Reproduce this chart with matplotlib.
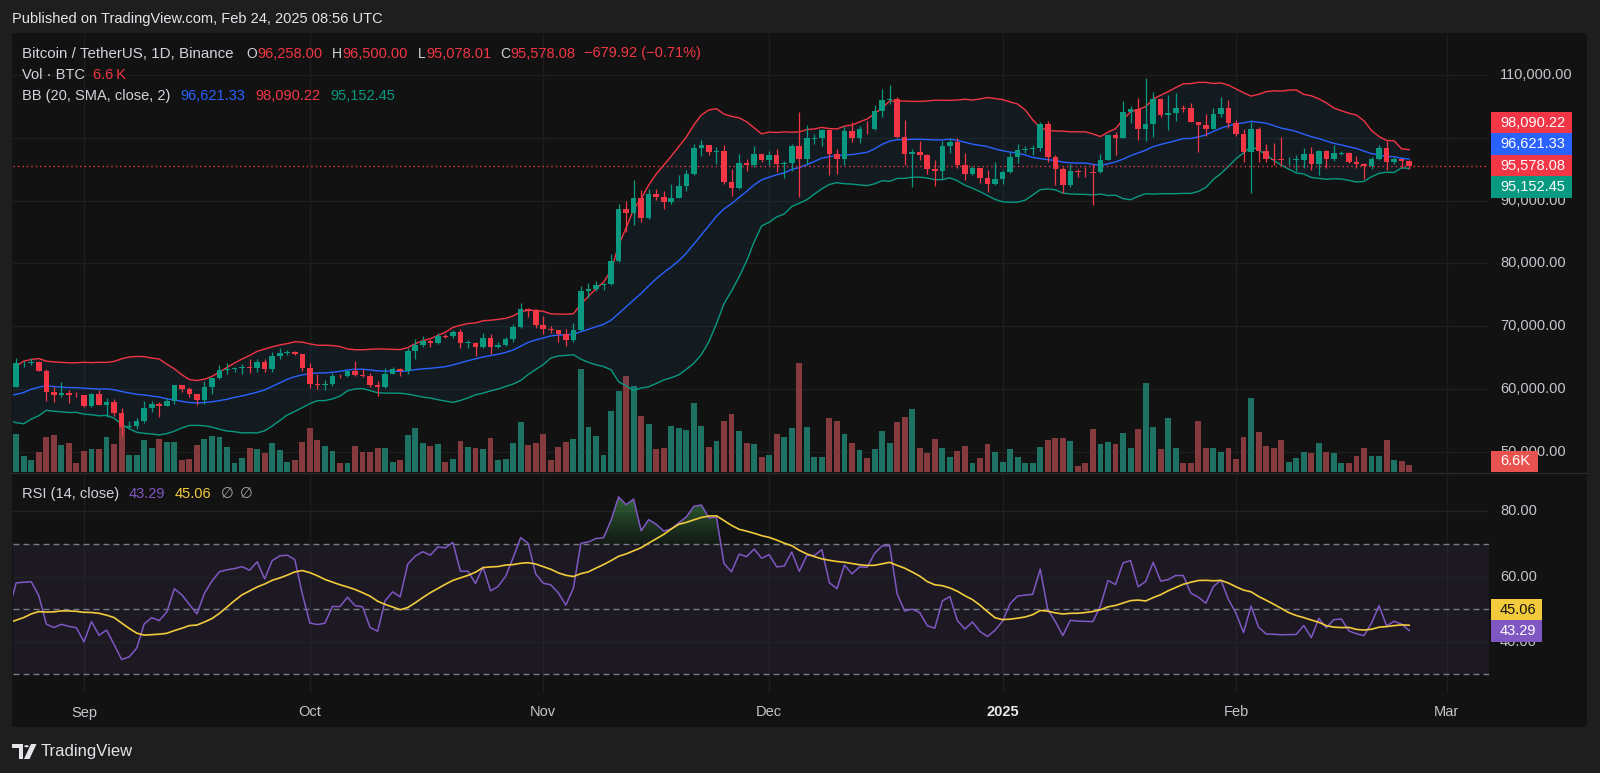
import numpy as np
import pandas as pd
import matplotlib
matplotlib.use("Agg")
import matplotlib.pyplot as plt
from matplotlib.patches import Rectangle, Circle, Polygon
from matplotlib.path import Path
from matplotlib.lines import Line2D
from matplotlib.colors import LinearSegmentedColormap
from matplotlib.transforms import blended_transform_factory

plt.rcParams['font.family'] = ['Liberation Sans', 'DejaVu Sans']

# ---------------- data (BTC/USDT 1D, Binance) ----------------
# closes before the first visible candle (Jul 1 - Aug 22, 2024), used for BB / RSI warm-up
warmup_closes = [62900, 62100, 60200, 57050, 56660, 58240, 55860, 56710, 58050, 57730,
                 57340, 57900, 59220, 60800, 64720, 65040, 64090, 63970, 66700, 67150,
                 68170, 67560, 65930, 65370, 65780, 67900, 67890, 68250, 66780, 66190,
                 64630,
                 65350, 61500, 60700, 58160, 54020, 56040, 55130, 61710, 60880, 60950,
                 58710, 59350, 60600, 58740, 57560, 58880, 59480, 58480, 59490, 59010,
                 61160, 60380]

first_open = 60380.0  # open of Aug 23, 2024 (each later open = previous close)

highs = [64950, 64520, 65000, 64480, 63210, 60240, 61170, 59840, 59450, 59060,
         59400, 59810, 58520, 58330, 56990, 54850, 55300, 58100, 58040, 57990,
         58590, 60670, 60660, 60380, 59210, 61330, 61790, 63870, 64130, 63560,
         64000, 64750, 64800, 64820, 65850, 66500, 66260, 66080, 65620, 64130,
         62390, 61470, 62480, 62370, 62970, 64480, 63180, 62540, 61320, 63420,
         63480, 63290, 66500, 67950, 68420, 67940, 68970, 68690, 69400, 69500,
         67830, 67470, 68850, 68770, 67450, 68330, 70270, 73620, 72960, 72700,
         71630, 70000, 69400, 69490, 70580, 76400, 76850, 77200, 76930, 81500,
         89530, 89940, 93265, 91760, 91850, 91780, 91450, 92600, 94000, 94830,
         98950, 99590, 98900, 98560, 98870, 94970, 97360, 96650, 98690, 97500,
         97900, 98150, 96300, 99000, 104090, 102040, 100550, 101400, 101200, 98270,
         101900, 102540, 101900, 102650, 105250, 107790, 108350, 106520, 102800, 98150,
         99540, 97400, 96420, 99500, 99960, 99960, 97540, 95500, 95170, 94900,
         96150, 94900, 97800, 98980, 98740, 98800, 102500, 102720, 97260, 95350,
         95840, 95000, 95400, 95900, 97370, 100680, 100870, 105900, 104990, 106320,
         109590, 107240, 106400, 106850, 107120, 105290, 105480, 102590, 103800, 104780,
         106460, 106090, 102800, 101460, 102500, 101740, 99000, 99200, 100150, 96880,
         97320, 98350, 98500, 98120, 98080, 98830, 97970, 97730, 97040, 96000,
         96900, 98800, 99500, 96940, 96670, 96500.00]

lows = [60350, 63560, 63780, 62800, 58030, 57860, 58780, 57750, 58760, 57200,
        57120, 57420, 55600, 55640, 52550, 53740, 53650, 54590, 56400, 55550,
        57320, 57630, 59460, 58700, 57490, 57610, 59170, 61570, 62350, 62760,
        62380, 62560, 62700, 62670, 62670, 64820, 65420, 65430, 62860, 60160,
        59990, 59830, 60460, 61690, 61850, 62130, 61850, 60310, 58900, 60080,
        62420, 62050, 62440, 64800, 66750, 66700, 67130, 68050, 68100, 66570,
        66570, 65260, 66470, 65510, 66520, 66800, 67520, 69730, 71440, 69690,
        68820, 68860, 67480, 66840, 67460, 69300, 74450, 75560, 75700, 76490,
        80220, 85070, 86130, 86670, 87100, 90050, 88720, 89380, 90370, 91530,
        94110, 97120, 97210, 95860, 92600, 90790, 91820, 94680, 95410, 96150,
        95700, 94500, 93580, 94660, 90500, 95700, 99020, 98700, 94150, 94260,
        95700, 99310, 99200, 100610, 101220, 103330, 105320, 100000, 95670, 92100,
        96400, 94200, 92400, 93400, 97600, 95140, 93300, 94000, 92880, 91320,
        92470, 92700, 94400, 96000, 97530, 97250, 97900, 96100, 92500, 91200,
        92200, 93800, 93700, 89260, 94320, 96500, 97300, 99950, 102280, 99650,
        99550, 100100, 103330, 101250, 102750, 104130, 102500, 97780, 100270, 101330,
        103310, 101540, 100300, 96150, 91230, 96150, 96150, 95650, 95650, 95690,
        94750, 95260, 94850, 94090, 95220, 96250, 97230, 96050, 95210, 93390,
        95030, 96470, 94870, 95770, 95230, 95078.01]

closes = [64090, 64180, 64250, 62880, 59500, 59030, 59370, 59120, 58970, 57300,
          59130, 57490, 57970, 56160, 53950, 54160, 54870, 57040, 57650, 57340,
          58130, 60570, 60010, 59130, 58210, 60310, 61760, 62950, 63200, 63350,
          63580, 63340, 64260, 63150, 65180, 65770, 65860, 65600, 63330, 60800,
          60650, 60750, 62080, 62070, 62820, 62220, 62130, 60580, 60270, 62450,
          63190, 62850, 66050, 67040, 67610, 67400, 68400, 68360, 69000, 67370,
          67380, 66650, 68160, 66620, 67010, 67930, 69900, 72720, 72340, 70220,
          69500, 69370, 68770, 67810, 69360, 75640, 75900, 76540, 76680, 80370,
          88650, 87950, 90380, 87250, 91060, 90560, 89850, 90460, 92310, 94290,
          98350, 98890, 97670, 97900, 93010, 91970, 95950, 95640, 97460, 96410,
          97190, 95840, 95990, 98770, 96650, 99920, 99920, 101170, 97370, 96600,
          101130, 100000, 101420, 101370, 104300, 106060, 106140, 100200, 97460, 97760,
          97220, 95100, 94690, 98680, 99400, 95650, 94160, 95160, 93530, 92640,
          93430, 94590, 96980, 98120, 98240, 98360, 102240, 96950, 95040, 92480,
          94700, 94570, 94520, 94500, 96530, 100500, 99990, 104080, 104560, 101330,
          102260, 106140, 103650, 103940, 104720, 104710, 102580, 102080, 101330, 103730,
          104730, 102430, 100640, 97690, 101400, 97870, 96610, 96550, 96460, 96480,
          96500, 97440, 95780, 97870, 96620, 97510, 97570, 96120, 95770, 95540,
          96640, 98330, 96130, 96580, 96258, 95578.08]

volumes_k = [36.1, 15.2, 11.4, 19.0, 33.3, 35.2, 25.7, 27.6, 8.6, 20.0,
             21.9, 21.9, 33.3, 26.6, 42.8, 16.2, 16.2, 30.4, 22.8, 31.4,
             28.5, 28.5, 11.4, 12.4, 25.7, 31.4, 34.2, 33.3, 23.8, 8.6,
             13.3, 22.8, 21.9, 18.1, 27.6, 20.9, 9.5, 11.4, 28.5, 41.8,
             30.4, 24.7, 20.0, 8.6, 8.6, 24.7, 19.0, 19.0, 22.8, 22.8,
             9.5, 11.4, 35.2, 41.8, 27.6, 24.7, 26.6, 9.5, 12.4, 29.5,
             23.8, 22.8, 21.9, 32.3, 11.4, 12.4, 27.6, 47.5, 25.7, 27.6,
             36.1, 11.4, 23.8, 28.5, 31.4, 97.9, 42.8, 34.2, 16.2, 58.0,
             77.0, 91.2, 81.7, 53.2, 45.6, 21.9, 22.8, 43.7, 41.8, 39.9,
             65.6, 43.7, 23.8, 29.5, 48.5, 55.1, 39.0, 27.6, 26.6, 14.3,
             16.2, 36.1, 33.3, 41.8, 103.6, 42.8, 14.3, 14.3, 51.3, 48.5,
             36.1, 27.6, 20.9, 13.3, 21.9, 39.0, 27.6, 47.5, 52.3, 59.9,
             22.8, 18.1, 31.4, 22.8, 14.3, 20.0, 24.7, 8.6, 13.3, 26.6,
             19.0, 9.5, 21.9, 14.3, 8.6, 8.6, 23.8, 30.4, 32.3, 32.3,
             29.5, 5.7, 8.6, 40.9, 26.6, 28.5, 26.6, 37.1, 22.8, 40.9,
             84.6, 42.8, 21.9, 51.3, 22.8, 8.6, 8.6, 48.5, 22.8, 22.8,
             19.0, 22.8, 12.4, 33.3, 70.3, 38.0, 24.7, 22.8, 30.4, 9.5,
             13.3, 19.0, 18.1, 27.6, 19.0, 18.1, 8.6, 8.6, 15.2, 22.8,
             15.2, 15.2, 30.4, 11.4, 10.5, 6.6]

month_ticks = [9, 39, 70, 100, 131, 162, 190]   # day index of Sep 1 ... Mar 1
month_labels = ["Sep", "Oct", "Nov", "Dec", "2025", "Feb", "Mar"]
price_ticks = [50000, 60000, 70000, 80000, 90000, 100000, 110000]
rsi_ticks = [40, 60, 80]
rsi_levels = [70, 50, 30]

# legend / last values as displayed
ohlc_text = [("O", "96,258.00"), ("H", "96,500.00"), ("L", "95,078.01"), ("C", "95,578.08")]
change_text = "\u2212679.92 (\u22120.71%)"
vol_text = "6.6\u2009K"
vol_tag_text = "6.6K"
last_close = 95578.08
last_vol_k = 6.6
bb_basis_last, bb_upper_last, bb_lower_last = 96621.33, 98090.22, 95152.45
rsi_last, rsi_ma_last = 43.29, 45.06

# ---------------- style / layout ----------------
W, H, DPI = 1600, 773, 100
BG_OUT = '#1e1e1e'
BG = '#121212'
GRID = '#1e1e1e'
GREEN = '#089981'
RED = '#f23645'
BLUE = '#2962ff'
PURPLE = '#7e57c2'
YELLOW = '#f2cb3c'
TXT = '#d1d4dc'
AX_TXT = '#c3c6cc'
FS = 10.5

PX_L, PX_R = 12.5, 1489.0
MAIN_T, MAIN_B = 34.0, 472.0
RSI_T, RSI_B = 474.0, 693.0
XLIM = (-0.49, 195.6)
MAIN_YLIM = (46780, 116530)
RSI_YLIM = (24.3, 91.5)


def frac(x0, top, x1, bottom):
    return [x0 / W, 1 - bottom / H, (x1 - x0) / W, (bottom - top) / H]


fig = plt.figure(figsize=(W / DPI, H / DPI), dpi=DPI)
fig.patch.set_facecolor(BG_OUT)
renderer = fig.canvas.get_renderer()
fig.add_artist(Rectangle((12 / W, 1 - 727 / H), 1575 / W, 694 / H, transform=fig.transFigure,
                         facecolor=BG, edgecolor='none', zorder=-5))
fig.add_artist(Line2D([12 / W, 1587 / W], [1 - 473 / H, 1 - 473 / H], transform=fig.transFigure,
                      color='#2a2a2a', lw=1.0, zorder=-4))

axv = fig.add_axes(frac(PX_L, MAIN_T, PX_R, MAIN_B))
ax = fig.add_axes(frac(PX_L, MAIN_T, PX_R, MAIN_B))
axr = fig.add_axes(frac(PX_L, RSI_T, PX_R, RSI_B))
axv.set_zorder(1)
ax.set_zorder(2)
axr.set_zorder(2)
for a in (axv, ax, axr):
    a.patch.set_visible(False)
    for s in a.spines.values():
        s.set_visible(False)
    a.set_xlim(*XLIM)

ax.set_ylim(*MAIN_YLIM)

# ---------------- arrays ----------------
closes_a = np.array(closes, dtype=float)
highs_a = np.array(highs, dtype=float)
lows_a = np.array(lows, dtype=float)
opens_a = np.r_[first_open, closes_a[:-1]]
vol_a = np.array(volumes_k, dtype=float)
x = np.arange(len(closes_a))
up = closes_a >= opens_a

all_close = pd.Series(np.r_[np.array(warmup_closes, dtype=float), closes_a])
x_all = np.arange(-len(warmup_closes), len(closes_a))

# ---------------- grid (behind volume) ----------------
trv = blended_transform_factory(axv.transAxes, ax.transData)
for p in price_ticks:
    axv.add_line(Line2D([0, 1], [p, p], transform=trv, color=GRID, lw=1.0, zorder=0))
for m in month_ticks:
    axv.axvline(m, color=GRID, lw=1.0, zorder=0)
    axr.axvline(m, color=GRID, lw=1.0, zorder=0)

# ---------------- volume ----------------
vcol = np.where(up, '#1d7264', '#853a3e')
axv.bar(x, vol_a, width=0.78, color=vcol, edgecolor='none', zorder=2)
axv.set_ylim(0, vol_a.max() * 4.0)
axv.set_yticks([])
axv.set_xticks([])

# ---------------- Bollinger bands ----------------
bb_mid = all_close.rolling(20).mean()
bb_sd = all_close.rolling(20).std(ddof=0)
bb_up = bb_mid + 2 * bb_sd
bb_lo = bb_mid - 2 * bb_sd
mb = x_all >= -1
ax.fill_between(x_all[mb], bb_up[mb], bb_lo[mb], color='#2196f3', alpha=0.07, lw=0, zorder=1)
ax.plot(x_all[mb], bb_up[mb], color=RED, lw=1.0, zorder=3)
ax.plot(x_all[mb], bb_mid[mb], color=BLUE, lw=1.0, zorder=3)
ax.plot(x_all[mb], bb_lo[mb], color=GREEN, lw=1.0, zorder=3)

# ---------------- candles ----------------
ccol = np.where(up, GREEN, RED)
ax.vlines(x, lows_a, highs_a, colors=ccol, lw=0.9, zorder=4)
b_lo = np.minimum(opens_a, closes_a)
b_hi = np.maximum(opens_a, closes_a)
min_h = 120.0
small = (b_hi - b_lo) < min_h
mid = (b_hi + b_lo) / 2
b_bottom = np.where(small, mid - min_h / 2, b_lo)
b_height = np.where(small, min_h, b_hi - b_lo)
ax.bar(x, b_height, bottom=b_bottom, width=0.74, color=ccol, edgecolor='none', zorder=5)

# last price line
ax.axhline(last_close, color=RED, lw=1.0, ls=(0, (1, 2.2)), zorder=3)

# ---------------- RSI ----------------
delta = all_close.diff()
gain = delta.clip(lower=0).values
loss = (-delta.clip(upper=0)).values
n = 14
avg_g = np.full(len(all_close), np.nan)
avg_l = np.full(len(all_close), np.nan)
avg_g[n] = np.mean(gain[1:n + 1])
avg_l[n] = np.mean(loss[1:n + 1])
for i in range(n + 1, len(all_close)):
    avg_g[i] = (avg_g[i - 1] * (n - 1) + gain[i]) / n
    avg_l[i] = (avg_l[i - 1] * (n - 1) + loss[i]) / n
rsi = 100 - 100 / (1 + avg_g / avg_l)
rsi_ma = pd.Series(rsi).rolling(14).mean().values

mr = x_all >= -1
xr = x_all[mr]
rr = rsi[mr]
rm = rsi_ma[mr]

axr.axhspan(30, 70, color=PURPLE, alpha=0.10, lw=0, zorder=0)
for t in rsi_ticks:
    axr.axhline(t, color='#222222', lw=1.0, zorder=0.5)
for lv in rsi_levels:
    axr.axhline(lv, color='#787b86', lw=1.0, ls=(0, (4.3, 2.9)), zorder=1)

fb = axr.fill_between(xr, rr, 70, where=rr > 70, interpolate=True, facecolor='none', edgecolor='none')
paths = fb.get_paths()
if len(paths):
    comp = Path.make_compound_path(*paths)
    cmap = LinearSegmentedColormap.from_list('ob', [(0.16, 0.45, 0.22, 0.10), (0.32, 0.72, 0.36, 0.60)])
    im = axr.imshow(np.linspace(0, 1, 256).reshape(-1, 1), extent=[XLIM[0], XLIM[1], 70, 86],
                    origin='lower', aspect='auto', cmap=cmap, zorder=2, interpolation='bilinear')
    im.set_clip_path(comp, transform=axr.transData)

axr.plot(xr, rr, color=PURPLE, lw=1.1, zorder=4)
axr.plot(xr, rm, color=YELLOW, lw=1.2, zorder=5)
axr.set_xlim(*XLIM)
axr.set_ylim(*RSI_YLIM)
axr.set_aspect('auto')
axr.set_xticks(month_ticks)
axr.set_xticklabels(month_labels)
axr.tick_params(axis='x', length=0, pad=9, labelsize=FS, labelcolor=AX_TXT)
for lab in axr.get_xticklabels():
    if lab.get_text() == "2025":
        lab.set_fontweight('bold')
        lab.set_color('#e6e8ec')

# ---------------- value tags on the right scale ----------------
TAG_H = 21.5
TAG_X = 1490.5


def disp_y(axis, val):
    return axis.transData.transform((0, val))[1]


tag_centres = []


def draw_tag(yc, text, face, tcolor, width):
    fig.add_artist(Rectangle((TAG_X / W, (yc - TAG_H / 2) / H), width / W, TAG_H / H,
                             transform=fig.transFigure, facecolor=face, edgecolor='none', zorder=10))
    fig.text(1500 / W, yc / H, text, color=tcolor, fontsize=FS, va='center', ha='left', zorder=11)
    tag_centres.append(yc)


main_tags = [(bb_upper_last, RED), (bb_basis_last, BLUE), (last_close, RED), (bb_lower_last, GREEN)]
anchor = disp_y(ax, last_close)
placed = {last_close: anchor}
prev = anchor
for val, c in sorted([t for t in main_tags if t[0] > last_close], key=lambda t: t[0]):
    yv = max(disp_y(ax, val), prev + TAG_H)
    placed[val] = yv
    prev = yv
prev = anchor
for val, c in sorted([t for t in main_tags if t[0] < last_close], key=lambda t: -t[0]):
    yv = min(disp_y(ax, val), prev - TAG_H)
    placed[val] = yv
    prev = yv
for val, c in main_tags:
    draw_tag(placed[val], f"{val:,.2f}", c, 'white', 81)

# volume tag, clamped to the pane bottom
vy = max(disp_y(axv, last_vol_k), (1 - MAIN_B / H) * H + TAG_H / 2)
draw_tag(vy, vol_tag_text, '#e8524f', 'white', 47)

# RSI tags
ry = disp_y(axr, rsi_last)
my = max(disp_y(axr, rsi_ma_last), ry + TAG_H)
draw_tag(my, f"{rsi_ma_last:.2f}", YELLOW, '#131313', 51)
draw_tag(ry, f"{rsi_last:.2f}", PURPLE, 'white', 51)


# scale labels: a label fully hidden behind a tag is not shown (as on the reference)
def scale_labels(axis, ticks, fmt):
    for t in ticks:
        yc = disp_y(axis, t)
        if any(abs(yc - c) < TAG_H / 2 - 3 for c in tag_centres):
            continue
        fig.text(1500 / W, yc / H, fmt(t), color=AX_TXT, fontsize=FS, va='center', ha='left', zorder=9)


ax.set_yticks([])
ax.set_xticks([])
axr.set_yticks([])
scale_labels(ax, price_ticks, lambda t: f"{t:,.2f}")
scale_labels(axr, rsi_ticks, lambda t: f"{t:.2f}")


# ---------------- texts ----------------
def ftext(xp, yp, s, color, size=FS, **kw):
    return fig.text(xp / W, 1 - yp / H, s, color=color, fontsize=size, va='center', ha='left', **kw)


def text_w(t):
    return t.get_window_extent(renderer).width


ftext(12.5, 19.5, "Published on TradingView.com, Feb 24, 2025 08:56 UTC", '#e3e5ea', size=10.5)

ftext(22.3, 53.5, "Bitcoin / TetherUS, 1D, Binance", TXT, size=10.9)
ohlc_x = [246.5, 332.3, 418.3, 500.0]
for (lbl, val), xl in zip(ohlc_text, ohlc_x):
    tl = ftext(xl, 53.5, lbl, TXT, size=10.0)
    ftext(xl + text_w(tl) + 0.3, 53.5, val, RED)
ftext(584.0, 53.5, change_text, RED)

ftext(22.3, 75.0, "Vol \u00b7 BTC", TXT)
ftext(92.9, 75.0, vol_text, RED)

ftext(22.3, 96.0, "BB (20, SMA, close, 2)", TXT)
ftext(180.0, 96.0, f"{bb_basis_last:,.2f}", BLUE)
ftext(255.0, 96.0, f"{bb_upper_last:,.2f}", RED)
ftext(330.7, 96.0, f"{bb_lower_last:,.2f}", GREEN)

ftext(22.0, 494.3, "RSI (14, close)", TXT)
ftext(128.6, 494.3, f"{rsi_last:.2f}", PURPLE)
ftext(174.5, 494.3, f"{rsi_ma_last:.2f}", YELLOW)
ftext(221.0, 494.3, "\u2205", '#a0a3aa')
ftext(240.0, 494.3, "\u2205", '#a0a3aa')

# TradingView logo mark + wordmark
LOGO = '#e3e5ea'


def fpt(xp, yp):
    return (xp / W, 1 - yp / H)


fig.add_artist(Polygon([fpt(12, 744), fpt(23, 744), fpt(23, 759), fpt(19, 759), fpt(19, 748), fpt(12, 748)],
                       closed=True, transform=fig.transFigure, facecolor=LOGO, edgecolor='none'))
fig.add_artist(Circle(fpt(26.5, 746.2), 2.2 / W, transform=fig.transFigure, facecolor=LOGO, edgecolor='none'))
fig.add_artist(Polygon([fpt(31, 744), fpt(36.5, 744), fpt(29.5, 759), fpt(24.0, 759)],
                       closed=True, transform=fig.transFigure, facecolor=LOGO, edgecolor='none'))
ftext(40.5, 751.5, "TradingView", LOGO, size=12)

fig.savefig("out.png", dpi=DPI, facecolor=fig.get_facecolor())
